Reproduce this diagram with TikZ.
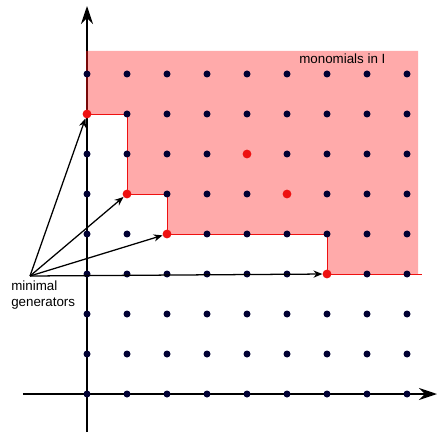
\documentclass[tikz,border=0pt]{standalone}
\usepackage{fontspec}
\setmainfont{Liberation Sans}
\usetikzlibrary{arrows.meta}
\definecolor{rosa}{HTML}{FFAAAA}
\definecolor{rosso}{HTML}{EE1111}
\definecolor{blu}{HTML}{000033}
\begin{document}
\begin{tikzpicture}[
        punto/.style={circle,fill=blu,inner sep=0pt,minimum size=1.75mm},
        gen/.style={circle,fill=rosso,inner sep=0pt,minimum size=2.2mm},
        asse/.style={line width=1.4pt,-{Stealth[length=4.5mm,width=3mm]}},
        freccia/.style={line width=0.9pt,-{Stealth[length=2.2mm,width=1.8mm]}},
        testo/.style={inner sep=0pt,font=\fontsize{9.5}{11.4}\selectfont}]
        \useasboundingbox (-2.175,-0.95) rectangle (8.75,9.85);
        %regione
        \fill[rosa] (0,8.575)--(8.28,8.575)--(8.28,3)--(6,3)--(6,4)--(2,4)
        --(2,5)--(1,5)--(1,7)--(0,7)--cycle;
        \draw[rosso,line width=0.6pt] (8.37,3)--(6,3)--(6,4)--(2,4)
        --(2,5)--(1,5)--(1,7)--(0,7);
        %assi
        \draw[asse] (0,-0.95)--(0,9.7);
        \draw[asse] (-1.6,0)--(8.75,0);
        \draw[rosso,line width=1pt,opacity=0.5] (0,7)--(0,8.575);
        %punti
        \foreach \i in {0,...,8}
            \foreach \j in {0,...,8}
                \fill[blu] (\i,\j) circle (0.0875);
        \node[gen] (g1) at (0,7) {};
        \node[gen] (g2) at (1,5) {};
        \node[gen] (g3) at (2,4) {};
        \node[gen] (g4) at (6,3) {};
        \node[gen] (m1) at (4,6) {};
        \node[gen] (m2) at (5,5) {};
        %etichette
        \node[testo,anchor=west] (ideale) at (5.3,8.375) {monomials in I};
        \node[testo,anchor=west,align=left] (etic) at (-1.9,2.475) {minimal\\generators};
        \coordinate (mg) at (-1.425,2.95);
        \draw[freccia] (mg)--(g1);
        \draw[freccia] (mg)--(g2);
        \draw[freccia] (mg)--(g3);
        \draw[freccia] (mg)--(g4);
\end{tikzpicture}
\end{document}
